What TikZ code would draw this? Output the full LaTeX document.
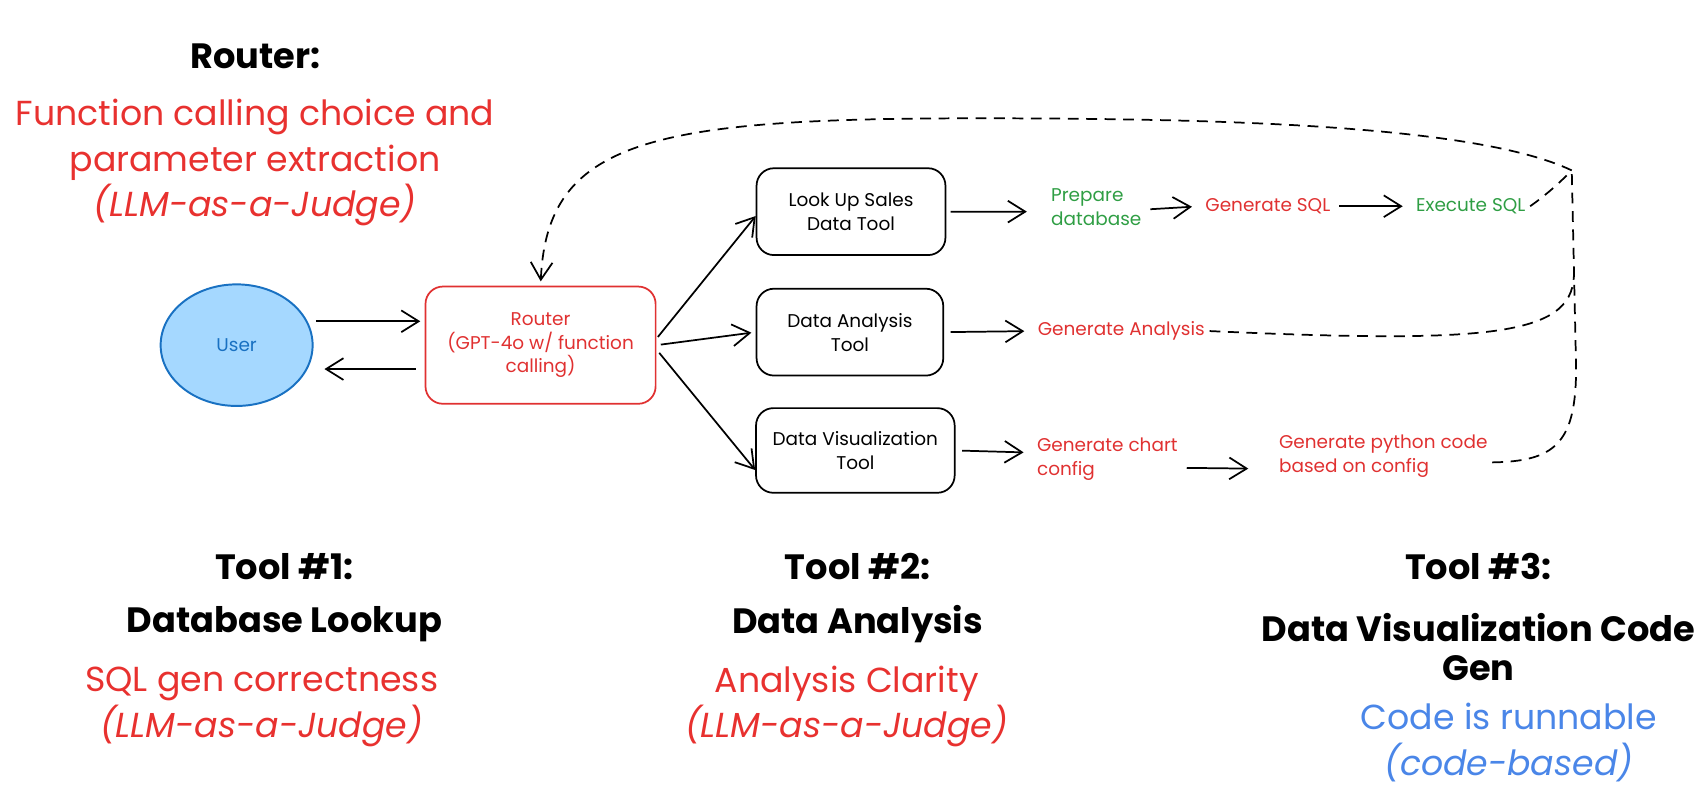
\documentclass[tikz,border=0pt]{standalone}
\usepackage{fontspec}
\setmainfont{Poppins}
\usetikzlibrary{arrows.meta,shapes.geometric}
\definecolor{evalred}{HTML}{E8312F}
\definecolor{sketchred}{HTML}{E03131}
\definecolor{sketchgreen}{HTML}{2F9E44}
\definecolor{evalblue}{HTML}{4A86E8}
\definecolor{userfill}{HTML}{A5D8FF}
\definecolor{userdraw}{HTML}{1971C2}
\begin{document}
\begin{tikzpicture}[>={Straight Barb[length=8bp,width=10bp]},line join=bevel,
  heading/.style={font=\fontsize{16.2bp}{18bp}\selectfont\bfseries},
  metric/.style={font=\fontsize{16bp}{21bp}\selectfont,text=evalred,align=center},
  toolbox/.style={draw=black,line width=0.8bp,rounded corners=8bp,align=center,inner sep=0pt,font=\fontsize{8.5bp}{11bp}\selectfont},
  steptext/.style={align=left,inner sep=2bp,font=\fontsize{8.5bp}{11bp}\selectfont},
  flow/.style={->,line width=0.8bp},
  back/.style={->,line width=0.8bp,dash pattern=on 5bp off 3.5bp}]
\useasboundingbox (0bp,0bp) rectangle (784bp,364.5bp);
%%
\node (router_title) at (117.5bp,338.5bp) [heading] {Router:};
  \node (router_metric) at (117.5bp,289.5bp) [metric] {Function calling choice and\\parameter extraction\\\itshape(LLM-as-a-Judge)};
  \node (tool1_title) at (131bp,103.5bp) [heading] {Tool \#1:};
  \node (tool1_name) at (131bp,77bp) [heading] {Database Lookup};
  \node (tool1_metric) at (120.5bp,39bp) [metric] {SQL gen correctness\\\itshape(LLM-as-a-Judge)};
  \node (tool2_title) at (395bp,103.5bp) [heading] {Tool \#2:};
  \node (tool2_name) at (395bp,77bp) [heading] {Data Analysis};
  \node (tool2_metric) at (390bp,39bp) [metric] {Analysis Clarity\\\itshape(LLM-as-a-Judge)};
  \node (tool3_title) at (681bp,103.5bp) [heading] {Tool \#3:};
  \node (tool3_name) at (681bp,66.5bp) [heading,align=center] {Data Visualization Code\\Gen};
  \node (tool3_metric) at (695bp,22.5bp) [metric,text=evalblue,font=\fontsize{16bp}{21bp}\selectfont] {Code is runnable\\\itshape(code-based)};
%
\node (user) at (109bp,205.5bp) [ellipse,draw=userdraw,fill=userfill,line width=0.9bp,minimum width=70bp,minimum height=56bp,text=userdraw,font=\fontsize{8.5bp}{11bp}\selectfont] {User};
  \node (router) at (249bp,205.5bp) [toolbox,draw=sketchred,text=sketchred,minimum width=106bp,minimum height=54bp] {Router\\(GPT-4o w/ function\\calling)};
  \node (lookup) at (392bp,267bp) [toolbox,minimum width=87bp,minimum height=40bp] {Look Up Sales\\Data Tool};
  \node (analysis) at (391.5bp,211.5bp) [toolbox,minimum width=86bp,minimum height=40bp] {Data Analysis\\Tool};
  \node (viz) at (394bp,157bp) [toolbox,minimum width=91.5bp,minimum height=39bp] {Data Visualization\\Tool};
  \node (prepare) at (482bp,269bp) [steptext,anchor=west,text=sketchgreen] {Prepare\\database};
  \node (gensql) at (584bp,269.5bp) [steptext,text=sketchred] {Generate SQL};
  \node (execsql) at (677.5bp,269.5bp) [steptext,text=sketchgreen] {Execute SQL};
  \node (genanalysis) at (516.5bp,212bp) [steptext,text=sketchred] {Generate Analysis};
  \node (genchart) at (475.5bp,153bp) [steptext,anchor=west,text=sketchred] {Generate chart\\config};
  \node (genpython) at (587bp,154.5bp) [steptext,anchor=west,text=sketchred] {Generate python code\\based on config};
  \coordinate (merge) at (724bp,286bp);
%
\draw [flow,shorten <=1bp,shorten >=2bp] ([yshift=11bp]user.east) -- ([yshift=11bp]router.west);
  \draw [flow,shorten <=4bp,shorten >=5bp] ([yshift=-11bp]router.west) -- ([yshift=-11bp]user.east);
  \draw [flow,shorten <=1bp] ([yshift=3bp]router.east) -- ([yshift=-2bp]lookup.west);
  \draw [flow,shorten <=2bp,shorten >=2bp] (router.east) -- (analysis.west);
  \draw [flow,shorten <=2bp] ([yshift=-2bp]router.east) -- ([yshift=-9bp]viz.west);
  \draw [flow,shorten <=2bp,shorten >=9bp] (lookup.east) -- ([yshift=-2bp]prepare.west);
  \draw [flow,shorten <=2bp,shorten >=4bp] ([yshift=-1bp]prepare.east) -- (gensql.west);
  \draw [flow,shorten <=2bp,shorten >=4bp] (gensql.east) -- (execsql.west);
  \draw [flow,shorten <=3bp,shorten >=4bp] (analysis.east) -- (genanalysis.west);
  \draw [flow,shorten <=3bp,shorten >=4bp] (viz.east) -- ([yshift=3bp]genchart.west);
  \draw [flow,shorten <=2bp,shorten >=12bp] ([yshift=-4bp]genchart.east) -- ([yshift=-6bp]genpython.west);
%
\draw [back,-] (execsql.east) ..controls (714bp,276bp) and (720bp,282bp)  .. (merge);
  \draw [back,-] (genanalysis.east) ..controls (690bp,206bp) and (726bp,210bp)  .. (725bp,240bp);
  \draw [back,-] ([yshift=-3bp]genpython.east) ..controls (716bp,152bp) and (726bp,160bp)  .. (726bp,195bp) -- (merge);
  \draw [back,shorten >=2bp] (merge) ..controls (680bp,307bp) and (560bp,310bp)  .. (450bp,310bp) ..controls (300bp,310bp) and (252bp,300bp)  .. (router.north);
%
\end{tikzpicture}
\end{document}
